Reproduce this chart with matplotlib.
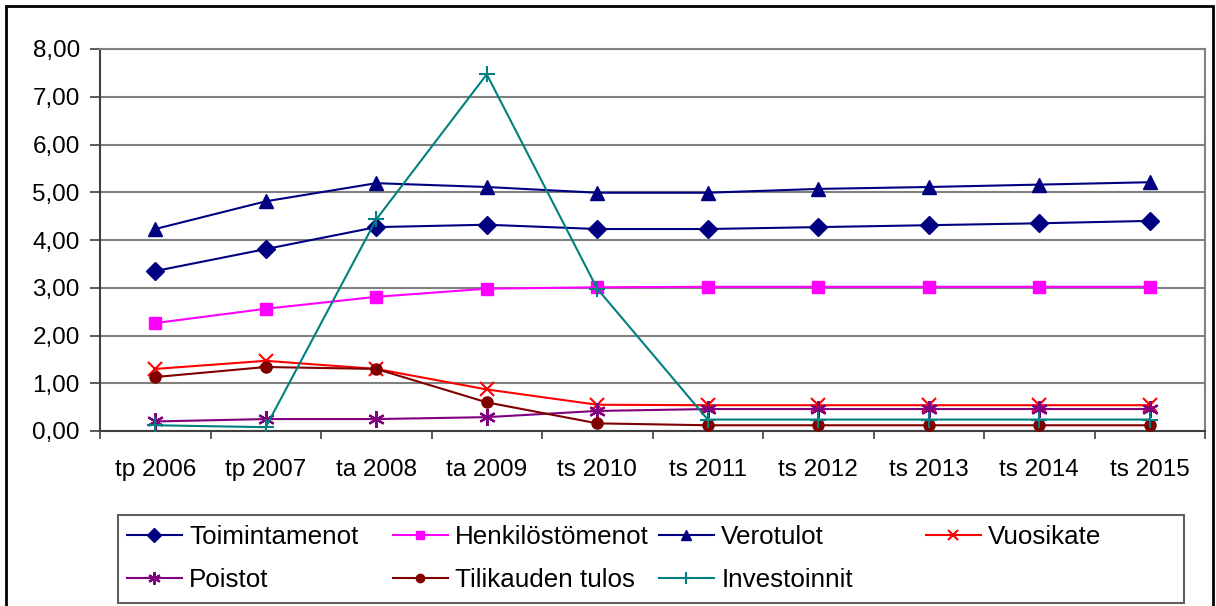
import matplotlib
matplotlib.use("Agg")
import matplotlib.pyplot as plt
from matplotlib.ticker import FuncFormatter, FixedLocator
from matplotlib.patches import Rectangle
import numpy as np

plt.rcParams['font.family'] = ['Liberation Sans', 'DejaVu Sans']

categories = ["tp 2006", "tp 2007", "ta 2008", "ta 2009", "ts 2010",
              "ts 2011", "ts 2012", "ts 2013", "ts 2014", "ts 2015"]

toimintamenot = [3.35, 3.81, 4.27, 4.32, 4.23, 4.23, 4.27, 4.31, 4.35, 4.40]
henkilostomenot = [2.26, 2.56, 2.81, 2.98, 3.01, 3.02, 3.02, 3.02, 3.02, 3.02]
verotulot = [4.23, 4.81, 5.19, 5.11, 4.99, 4.99, 5.07, 5.11, 5.16, 5.21]
vuosikate = [1.30, 1.47, 1.30, 0.87, 0.55, 0.54, 0.54, 0.54, 0.54, 0.54]
poistot = [0.20, 0.25, 0.25, 0.29, 0.42, 0.46, 0.46, 0.46, 0.46, 0.46]
tilikauden_tulos = [1.13, 1.34, 1.30, 0.60, 0.16, 0.12, 0.12, 0.12, 0.12, 0.12]
investoinnit = [0.12, 0.08, 4.43, 7.47, 2.98, 0.24, 0.24, 0.24, 0.24, 0.24]

W, H = 1216, 606
fig = plt.figure(figsize=(W / 100, H / 100), dpi=100)
ax = fig.add_axes([100 / W, (H - 431) / H, 1105 / W, (431 - 49) / H])

x = np.arange(len(categories))
lw = 1.5
series = [
    ("Toimintamenot", toimintamenot, "#000080", "D", 9),
    ("Henkilöstömenot", henkilostomenot, "#FF00FF", "s", 8),
    ("Verotulot", verotulot, "#000080", "^", 9.5),
    ("Vuosikate", vuosikate, "#FF0000", "x", 9.5),
    ("Poistot", poistot, "#800080", "*", 12),
    ("Tilikauden tulos", tilikauden_tulos, "#800000", "o", 8),
    ("Investoinnit", investoinnit, "#008080", "+", 11),
]
handles = {}
for name, vals, col, mk, ms in series:
    if mk == "*":
        ln, = ax.plot(x, vals, color=col, lw=lw, marker=(6, 2, 0), ms=ms,
                      mew=1.6, label=name, zorder=3)
    elif mk in ("x", "+"):
        ln, = ax.plot(x, vals, color=col, lw=lw, marker=mk, ms=ms, mew=1.5,
                      label=name, zorder=3)
    else:
        ln, = ax.plot(x, vals, color=col, lw=lw, marker=mk, ms=ms,
                      mfc=col, mec=col, label=name, zorder=3)
    handles[name] = ln

ax.set_xlim(-0.5, len(categories) - 0.5)
ax.set_ylim(0, 8)
ax.set_yticks(np.arange(0, 9, 1))
ax.yaxis.set_major_formatter(FuncFormatter(lambda v, p: f"{v:.2f}".replace('.', ',')))
ax.set_xticks(x)
ax.set_xticklabels(categories)
ax.xaxis.set_minor_locator(FixedLocator(np.arange(-0.5, len(categories), 1)))
ax.tick_params(axis='x', which='major', length=0, pad=20, labelsize=17.5)
ax.tick_params(axis='x', which='minor', length=6, width=1.2, color='#404040', direction='out')
ax.tick_params(axis='y', which='major', length=7, width=1.2, color='#404040',
               pad=7.5, labelsize=17.5)
ax.grid(axis='y', color='#808080', lw=1.5, zorder=0)
ax.set_axisbelow(True)
for s in ['top', 'right']:
    ax.spines[s].set_color('#808080')
    ax.spines[s].set_linewidth(1.5)
for s in ['left', 'bottom']:
    ax.spines[s].set_color('#404040')
    ax.spines[s].set_linewidth(1.5)

# legend in four columns
cols = [(127, ["Toimintamenot", "Poistot"]),
        (393, ["Henkilöstömenot", "Tilikauden tulos"]),
        (659, ["Verotulot", "Investoinnit"]),
        (926, ["Vuosikate"])]
for xpx, names in cols:
    leg = fig.legend([handles[n] for n in names], names, loc='upper left',
                     bbox_to_anchor=(xpx / W, (H - 525) / H), frameon=False,
                     borderpad=0, borderaxespad=0, handlelength=2.1,
                     handletextpad=0.3, labelspacing=0.75, fontsize=18.7,
                     markerscale=0.75)

fig.add_artist(Rectangle((118 / W, (H - 603) / H), (1184 - 118) / W, (603 - 515) / H,
                         transform=fig.transFigure, fill=False, ec='#606060', lw=1.5))
fig.add_artist(Rectangle((5.5 / W, -0.01), (1213 - 5.5) / W, (H - 5.5) / H + 0.01,
                         transform=fig.transFigure, fill=False, ec='black', lw=2))

fig.savefig("out.png", dpi=100)
